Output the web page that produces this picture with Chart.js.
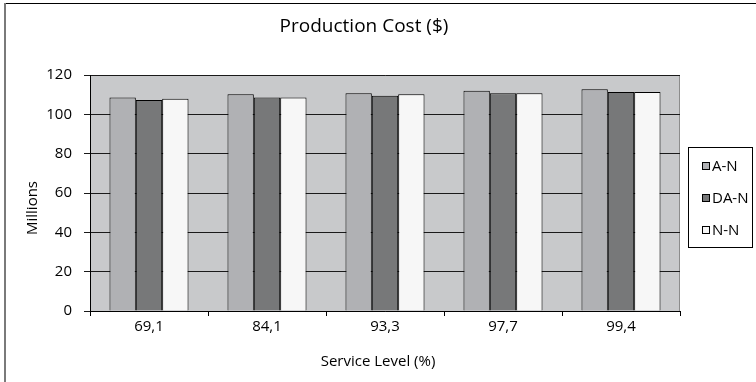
<!DOCTYPE html>
<html>
<head>
<meta charset="utf-8">
<script src="https://cdn.jsdelivr.net/npm/chart.js@4/dist/chart.umd.min.js"></script>
<style>
  html, body { margin: 0; padding: 0; background: #fff; }
  #wrap { width: 756px; height: 382px; position: relative; }
</style>
</head>
<body>
<div id="wrap"><canvas id="c" width="756" height="382"></canvas></div>
<script>
// Production cost per service level, in millions of dollars
const serviceLevels = ['69,1', '84,1', '93,3', '97,7', '99,4'];
const costAN  = [108.6, 110.2, 110.7, 112.0, 112.7];
const costDAN = [107.3, 108.6, 109.5, 110.7, 111.3];
const costNN  = [107.9, 108.6, 110.2, 110.7, 111.3];
const yTicks = [0, 20, 40, 60, 80, 100, 120];

const FONT = '"Open Sans", "DejaVu Sans", sans-serif';

// Frame, plot background, titles and legend box
const decor = {
  id: 'decor',
  beforeDraw(chart) {
    const { ctx, chartArea: a } = chart;
    ctx.save();
    ctx.fillStyle = '#ffffff';
    ctx.fillRect(0, 0, chart.width, chart.height);
    // outer frame
    ctx.strokeStyle = '#000';
    ctx.lineWidth = 1;
    ctx.beginPath();
    ctx.moveTo(4, 3.5); ctx.lineTo(chart.width, 3.5);
    ctx.stroke();
    ctx.strokeStyle = '#7a7a7a';
    ctx.lineWidth = 2;
    ctx.beginPath();
    ctx.moveTo(5, 3); ctx.lineTo(5, chart.height);
    ctx.stroke();
    // plot area
    ctx.fillStyle = '#c8c9cb';
    ctx.fillRect(a.left, a.top, a.right - a.left, a.bottom - a.top);
    ctx.strokeStyle = '#8c8c8c';
    ctx.lineWidth = 1;
    ctx.beginPath();
    ctx.moveTo(a.left, a.top + 0.5); ctx.lineTo(a.right - 0.5, a.top + 0.5);
    ctx.lineTo(a.right - 0.5, a.bottom);
    ctx.stroke();
    ctx.restore();
  },
  afterDraw(chart) {
    const { ctx } = chart;
    ctx.save();
    ctx.fillStyle = '#000';
    ctx.textAlign = 'center';
    ctx.textBaseline = 'middle';
    ctx.font = '19px ' + FONT;
    ctx.fillText('Production Cost ($)', 364, 27);
    ctx.font = '15px ' + FONT;
    ctx.fillText('Service Level (%)', 378, 362);
    ctx.translate(33, 208);
    ctx.rotate(-Math.PI / 2);
    ctx.fillText('Millions', 0, 0);
    ctx.restore();

    // legend
    ctx.save();
    ctx.strokeStyle = '#000';
    ctx.lineWidth = 1;
    ctx.fillStyle = '#fff';
    ctx.fillRect(688.5, 147.5, 64, 100);
    ctx.strokeRect(688.5, 147.5, 64, 100);
    ctx.font = '15px ' + FONT;
    ctx.textAlign = 'left';
    ctx.textBaseline = 'middle';
    chart.data.datasets.forEach((ds, i) => {
      const y = 166 + i * 32;
      ctx.fillStyle = ds.backgroundColor;
      ctx.fillRect(702.5, y - 3.5, 7, 7);
      ctx.strokeStyle = '#000';
      ctx.strokeRect(702.5, y - 3.5, 7, 7);
      ctx.fillStyle = '#000';
      ctx.fillText(ds.label, 712, y + 1);
    });
    ctx.restore();
  }
};

const barStyle = { borderColor: '#000', borderWidth: 1, barPercentage: 1.0, categoryPercentage: 0.67 };

new Chart(document.getElementById('c'), {
  type: 'bar',
  data: {
    labels: serviceLevels,
    datasets: [
      { label: 'A-N',  data: costAN,  backgroundColor: '#b0b1b4', ...barStyle },
      { label: 'DA-N', data: costDAN, backgroundColor: '#777879', ...barStyle },
      { label: 'N-N',  data: costNN,  backgroundColor: '#f7f7f7', ...barStyle }
    ]
  },
  options: {
    responsive: false,
    animation: false,
    layout: { padding: { top: 75, right: 76, left: 0, bottom: 0 } },
    plugins: {
      legend: { display: false },
      title: { display: false },
      tooltip: { enabled: false }
    },
    scales: {
      x: {
        offset: true,
        grid: { display: true, drawOnChartArea: false, drawTicks: true, tickLength: 5, color: '#000', offset: true },
        border: { display: true, color: '#000', width: 1 },
        ticks: { color: '#000', font: { family: FONT, size: 15 }, padding: 2, maxRotation: 0 },
        afterFit(scale) { scale.height = 71; }
      },
      y: {
        min: 0, max: 120,
        afterBuildTicks(scale) { scale.ticks = yTicks.map(v => ({ value: v })); },
        grid: { color: '#1a1a1a', lineWidth: 1, drawTicks: true, tickLength: 6 },
        border: { display: true, color: '#000', width: 1 },
        ticks: { color: '#000', font: { family: FONT, size: 15 }, padding: 12 },
        afterFit(scale) { scale.width = 90; }
      }
    }
  },
  plugins: [decor]
});
</script>
</body>
</html>
